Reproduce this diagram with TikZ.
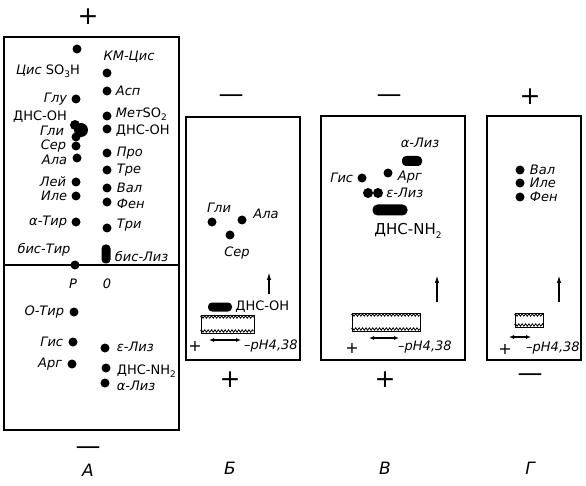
\documentclass[tikz,border=0pt]{standalone}
\usepackage{fontspec}
\setmainfont{DejaVu Sans}
\usetikzlibrary{arrows.meta,positioning,decorations.pathmorphing}
\newcommand\elflow[1]{\raisebox{-0.45ex}{\fontsize{9}{9}\selectfont #1}}
\tikzset{
  elfpanel/.style={draw,line width=1.8pt},
  elfspot/.style={circle,fill,inner sep=0pt,minimum size=9pt},
  elfbar/.style={fill,rounded corners=4pt,inner sep=0pt,minimum height=9pt},
  elflabel/.style={font=\fontsize{13}{13}\selectfont\itshape,inner sep=1pt},
  elfchem/.style={font=\fontsize{13}{13}\selectfont,inner sep=1pt},
  elfsign/.style={font=\fontsize{25}{25}\selectfont,inner sep=0pt},
  elfsmall/.style={font=\fontsize{16}{16}\selectfont,inner sep=0pt},
  elfletter/.style={font=\fontsize{17}{17}\selectfont\itshape,inner sep=0pt},
  elfbath/.style={draw,line width=1pt,inner sep=0pt},
  elfteeth/.style={line width=0.8pt,decorate,
                   decoration={zigzag,segment length=3.4pt,amplitude=1.2pt}},
  elfrise/.style={-{Latex[length=8pt,width=4.5pt]},line width=1.5pt},
  elfshift/.style={{Latex[length=5pt,width=4pt]}-{Latex[length=5pt,width=4pt]},line width=1.3pt}
}

\begin{document}
\begin{tikzpicture}[x=1pt,y=-1pt]
  \useasboundingbox (0,0) rectangle (586,486);

  % panel A
  \draw[elfpanel] (4,37) rectangle (179,430);
  \draw[elfpanel] (4,265) -- (179,265);
  \node[elfsign] (signAtop) at (88,17) {+};
  \node[elfsign] (signAbot) at (88,451) {—};
  \node[elfletter] (nameA) at (88,470) {A};

  \node[elfspot] (cisA) at (77,49) {};
  \node[elflabel] (cisAlab) at (48,71) {Цис \upshape SO\elflow{3}H};
  \node[elflabel] (kmcisAlab) at (129,57) {КМ-Цис};
  \node[elfspot] (kmcisA) at (107,73) {};
  \node[elfspot] (aspA) at (107,91) {};
  \node[elflabel,right=3pt of aspA] {Асп};
  \node[elfspot] (metA) at (107,116) {};
  \node[elflabel,right=3pt of metA,yshift=2pt] {Мет\upshape SO\elflow{2}};
  \node[elfspot] (dnsohA) at (107,129) {};
  \node[elfchem,right=3pt of dnsohA,yshift=-2pt] {ДНС-ОН};
  \node[elfspot] (proA) at (107,153) {};
  \node[elflabel,right=4pt of proA] {Про};
  \node[elfspot] (treA) at (107,170) {};
  \node[elflabel,right=4pt of treA] {Тре};
  \node[elfspot] (valA) at (107,188) {};
  \node[elflabel,right=4pt of valA] {Вал};
  \node[elfspot] (fenA) at (107,202) {};
  \node[elflabel,right=4pt of fenA,yshift=-2pt] {Фен};
  \node[elfspot] (triA) at (107,228) {};
  \node[elflabel,right=4pt of triA,yshift=3pt] {Три};
  \node[elfbar,minimum width=9pt,minimum height=19pt] (bislysA) at (106,254) {};
  \node[elflabel,right=3pt of bislysA,yshift=-3pt] {бис-Лиз};

  \node[elfspot] (gluA) at (76,99) {};
  \node[elflabel,left=3pt of gluA] {Глу};
  \node[elfchem] (dnsohAlab) at (40,117) {ДНС-ОН};
  \node[elfspot,minimum size=14pt] (glyA) at (81,130) {};
  \node[elfspot,minimum size=10pt] (glyAa) at (75,125) {};
  \node[elfspot,minimum size=9pt] (glyAb) at (76,137) {};
  \node[elflabel] (glyAlab) at (52,131) {Гли};
  \node[elfspot] (serA) at (76,146) {};
  \node[elflabel,left=4pt of serA] {Сер};
  \node[elfspot] (alaA) at (77,158) {};
  \node[elflabel,left=4pt of alaA,yshift=-2pt] {Ала};
  \node[elfspot] (leiA) at (76,182) {};
  \node[elflabel,left=4pt of leiA] {Лей};
  \node[elfspot] (ileA) at (76,196) {};
  \node[elflabel,left=3pt of ileA] {Иле};
  \node[elfspot] (atyrA) at (76,222) {};
  \node[elflabel,left=3pt of atyrA] {α-Тир};
  \node[elflabel] (bistyrAlab) at (44,250) {бис-Тир};
  \node[elfspot] (bistyrA) at (75,265) {};
  \node[elflabel] (pA) at (73,284) {P};
  \node[elflabel] (oA) at (107,284) {0};

  \node[elfspot] (otyrA) at (74,312) {};
  \node[elflabel,left=4pt of otyrA] {О-Тир};
  \node[elfspot] (hisA) at (73,342) {};
  \node[elflabel,left=4pt of hisA] {Гис};
  \node[elfspot] (argA) at (72,364) {};
  \node[elflabel,left=4pt of argA] {Арг};
  \node[elfspot] (elysA) at (105,348) {};
  \node[elflabel,right=6pt of elysA,yshift=1pt] {ε-Лиз};
  \node[elfspot] (dnsnhA) at (106,368) {};
  \node[elfchem,right=5pt of dnsnhA,yshift=-3pt] {ДНС-NH\elflow{2}};
  \node[elfspot] (alysA) at (105,383) {};
  \node[elflabel,right=6pt of alysA,yshift=-3pt] {α-Лиз};

  % panel B
  \draw[elfpanel] (186,117) rectangle (300,360);
  \node[elfsign] (signBtop) at (231,99) {—};
  \node[elfsign] (signBbot) at (230,380) {+};
  \node[elfletter] (nameB) at (230,468) {Б};
  \node[elfspot] (glyB) at (212,222) {};
  \node[elflabel] (glyBlab) at (219,208) {Гли};
  \node[elfspot] (alaB) at (242,220) {};
  \node[elflabel] (alaBlab) at (266,214) {Ала};
  \node[elfspot] (serB) at (230,235) {};
  \node[elflabel] (serBlab) at (237,253) {Сер};
  \coordinate (riseB0) at (269,294);
  \coordinate (riseB1) at (269,272);
  \draw[elfrise] (riseB0) -- (riseB1);
  \node[elfbar,minimum width=24pt] (dnsohB) at (220,307) {};
  \node[elfchem,right=2pt of dnsohB] {ДНС-ОН};
  \node[elfbath,minimum width=53pt,minimum height=18pt] (bathB) at (227.5,324) {};
  \draw[elfteeth] ([yshift=-2.5pt]bathB.north west) -- ([yshift=-2.5pt]bathB.north east);
  \draw[elfteeth] ([yshift=2.5pt]bathB.south west) -- ([yshift=2.5pt]bathB.south east);
  \coordinate (shiftB0) at (209,340);
  \coordinate (shiftB1) at (241,340);
  \draw[elfshift] (shiftB0) -- (shiftB1);
  \node[elfsmall] (plusB) at (195,346) {+};
  \node[elflabel,anchor=west] (phB) at (243,346) {–pH4,38};

  % panel V
  \draw[elfpanel] (321,116) rectangle (465,360);
  \node[elfsign] (signVtop) at (389,99) {—};
  \node[elfsign] (signVbot) at (385,380) {+};
  \node[elfletter] (nameV) at (385,468) {В};
  \node[elflabel] (alysVlab) at (420,143) {α-Лиз};
  \node[elfbar,minimum width=20pt,minimum height=10pt] (alysV) at (412,161) {};
  \node[elfspot] (hisV) at (362,178) {};
  \node[elflabel,left=3pt of hisV] {Гис};
  \node[elfspot] (argV) at (388,173) {};
  \node[elflabel,right=4pt of argV,yshift=-4pt] {Арг};
  \node[elfspot,minimum size=10pt] (elysV) at (368,193) {};
  \node[elfspot,minimum size=10pt] (elysVb) at (378,193) {};
  \node[elflabel,right=2pt of elysVb] {ε-Лиз};
  \node[elfbar,minimum width=35pt,minimum height=11pt,rounded corners=5pt] (dnsnhV) at (390,210) {};
  \node[elfchem,font=\fontsize{15}{15}\selectfont] (dnsnhVlab) at (408,231) {ДНС-NH\elflow{2}};
  \coordinate (riseV0) at (437,302);
  \coordinate (riseV1) at (437,275);
  \draw[elfrise] (riseV0) -- (riseV1);
  \node[elfbath,minimum width=68pt,minimum height=18pt] (bathV) at (386,322) {};
  \draw[elfteeth] ([yshift=-2.5pt]bathV.north west) -- ([yshift=-2.5pt]bathV.north east);
  \draw[elfteeth] ([yshift=2.5pt]bathV.south west) -- ([yshift=2.5pt]bathV.south east);
  \coordinate (shiftV0) at (369,338);
  \coordinate (shiftV1) at (399,338);
  \draw[elfshift] (shiftV0) -- (shiftV1);
  \node[elfsmall] (plusV) at (352,348) {+};
  \node[elflabel,anchor=west] (phV) at (397,347) {–pH4,38};

  % panel G
  \draw[elfpanel] (487,116) rectangle (581,360);
  \node[elfsign] (signGtop) at (530,97) {+};
  \node[elfsign] (signGbot) at (530,378) {—};
  \node[elfletter] (nameG) at (530,468) {Г};
  \node[elfspot] (valG) at (520,170) {};
  \node[elflabel,right=4pt of valG] {Вал};
  \node[elfspot] (ileG) at (520,183) {};
  \node[elflabel,right=4pt of ileG] {Иле};
  \node[elfspot] (fenG) at (520,197) {};
  \node[elflabel,right=4pt of fenG] {Фен};
  \coordinate (riseG0) at (559,302);
  \coordinate (riseG1) at (559,275);
  \draw[elfrise] (riseG0) -- (riseG1);
  \node[elfbath,minimum width=28pt,minimum height=14pt] (bathG) at (529,320) {};
  \draw[elfteeth] ([yshift=-2.5pt]bathG.north west) -- ([yshift=-2.5pt]bathG.north east);
  \draw[elfteeth] ([yshift=2.5pt]bathG.south west) -- ([yshift=2.5pt]bathG.south east);
  \coordinate (shiftG0) at (509,337);
  \coordinate (shiftG1) at (531,337);
  \draw[elfshift] (shiftG0) -- (shiftG1);
  \node[elfsmall] (plusG) at (505,349) {+};
  \node[elflabel,anchor=west] (phG) at (525,348) {–pH4,38};
\end{tikzpicture}
\end{document}
